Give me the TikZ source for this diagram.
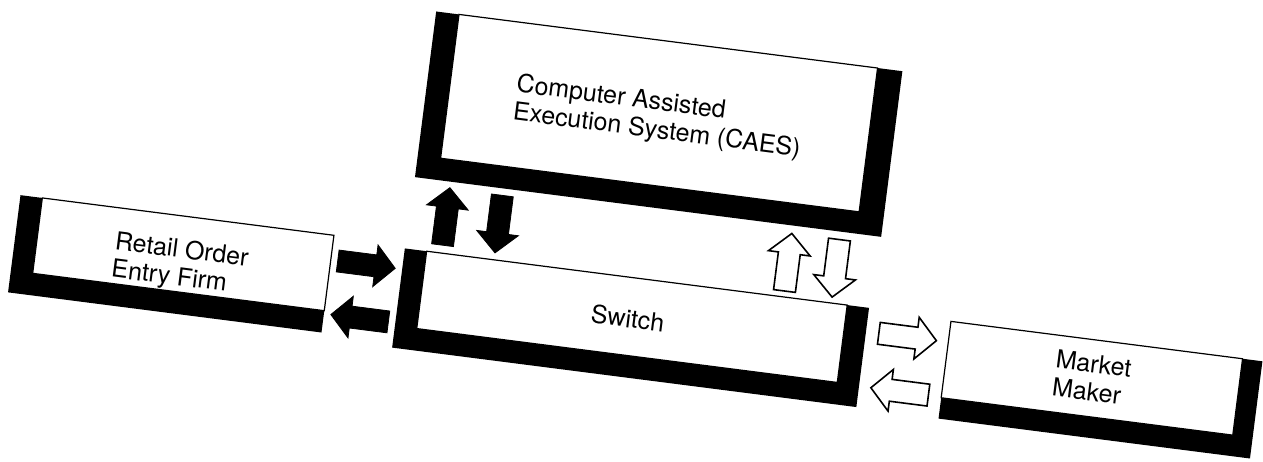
\documentclass[tikz,border=0pt]{standalone}
\usepackage{fontspec}
\setmainfont{TeX Gyre Heros}
\usetikzlibrary{calc}
\begin{document}
\begin{tikzpicture}[x=1pt,y=-1pt,
  shadowbox/.style={draw=none, fill=black, inner sep=0pt, outer sep=0pt, rectangle},
  whitebox/.style={draw=black, line width=1.2pt, fill=white, inner sep=0pt, outer sep=0pt, rectangle},
  boxlabel/.style={font=\fontsize{25}{28}\selectfont, align=left, inner sep=0pt},
  blk/.style={fill=black, draw=black, line width=0.8pt, line join=miter},
  wht/.style={fill=white, draw=black, line width=1.6pt, line join=miter},
  barrow/.pic={\path[pic actions] (0,-11) -- (38,-11) -- (38,-21) -- (58,0) -- (38,21) -- (38,11) -- (0,11) -- cycle;}
]
\useasboundingbox (0,0) rectangle (1263,461);
\begin{scope}[rotate around={-7.3:(631,230)}, transform shape]
  % Retail Order Entry Firm
  \node[shadowbox, minimum width=316pt, minimum height=98pt] (retailsh) at (179,322) {};
  \node[whitebox, anchor=north east, minimum width=294pt, minimum height=76pt] (retail) at (retailsh.north east) {};
  \node[boxlabel] (retailtxt) at (188,322) {Retail Order\\Entry Firm};
  % CAES
  \node[shadowbox, minimum width=470pt, minimum height=167pt] (caessh) at (645,121.5) {};
  \node[whitebox, anchor=north, minimum width=422pt, minimum height=145pt] (caes) at ($(caessh.north)+(-1,0)$) {};
  \node[boxlabel] (caestxt) at (644,115) {Computer Assisted\\Execution System (CAES)};
  % Switch
  \node[shadowbox, minimum width=468pt, minimum height=100pt] (switchsh) at (643,327) {};
  \node[whitebox, anchor=north, minimum width=424pt, minimum height=78pt] (switch) at (switchsh.north) {};
  \node[boxlabel] (switchtxt) at (639,318) {Switch};
  % Market Maker
  \node[shadowbox, minimum width=314pt, minimum height=98pt] (mmsh) at (1117,329) {};
  \node[whitebox, anchor=north west, minimum width=294pt, minimum height=77pt] (mm) at (mmsh.north west) {};
  \node[boxlabel] (mmtxt) at (1107,318) {Market\\Maker};
  % black arrows Retail <-> Switch
  \pic[blk] at ($(retailsh.east)+(7,-24)$) {barrow};
  \pic[blk, rotate=180] at ($(switchsh.west)+(-7,25)$) {barrow};
  % black arrows Switch <-> CAES
  \pic[blk, rotate=90] at ($(switch.north west)+(15,-8)$) {barrow};
  \pic[blk, rotate=-90] at ($(caes.south west)+(66,29)$) {barrow};
  % white arrows Switch <-> CAES
  \pic[wht, rotate=90] at ($(switch.north west)+(360,-6)$) {barrow};
  \pic[wht, rotate=-90] at ($(caes.south west)+(406,30)$) {barrow};
  % white arrows Switch <-> Market Maker
  \pic[wht] at ($(switchsh.east)+(13,-26)$) {barrow};
  \pic[wht, rotate=180] at ($(mmsh.west)+(-13,27)$) {barrow};
\end{scope}
\end{tikzpicture}
\end{document}
